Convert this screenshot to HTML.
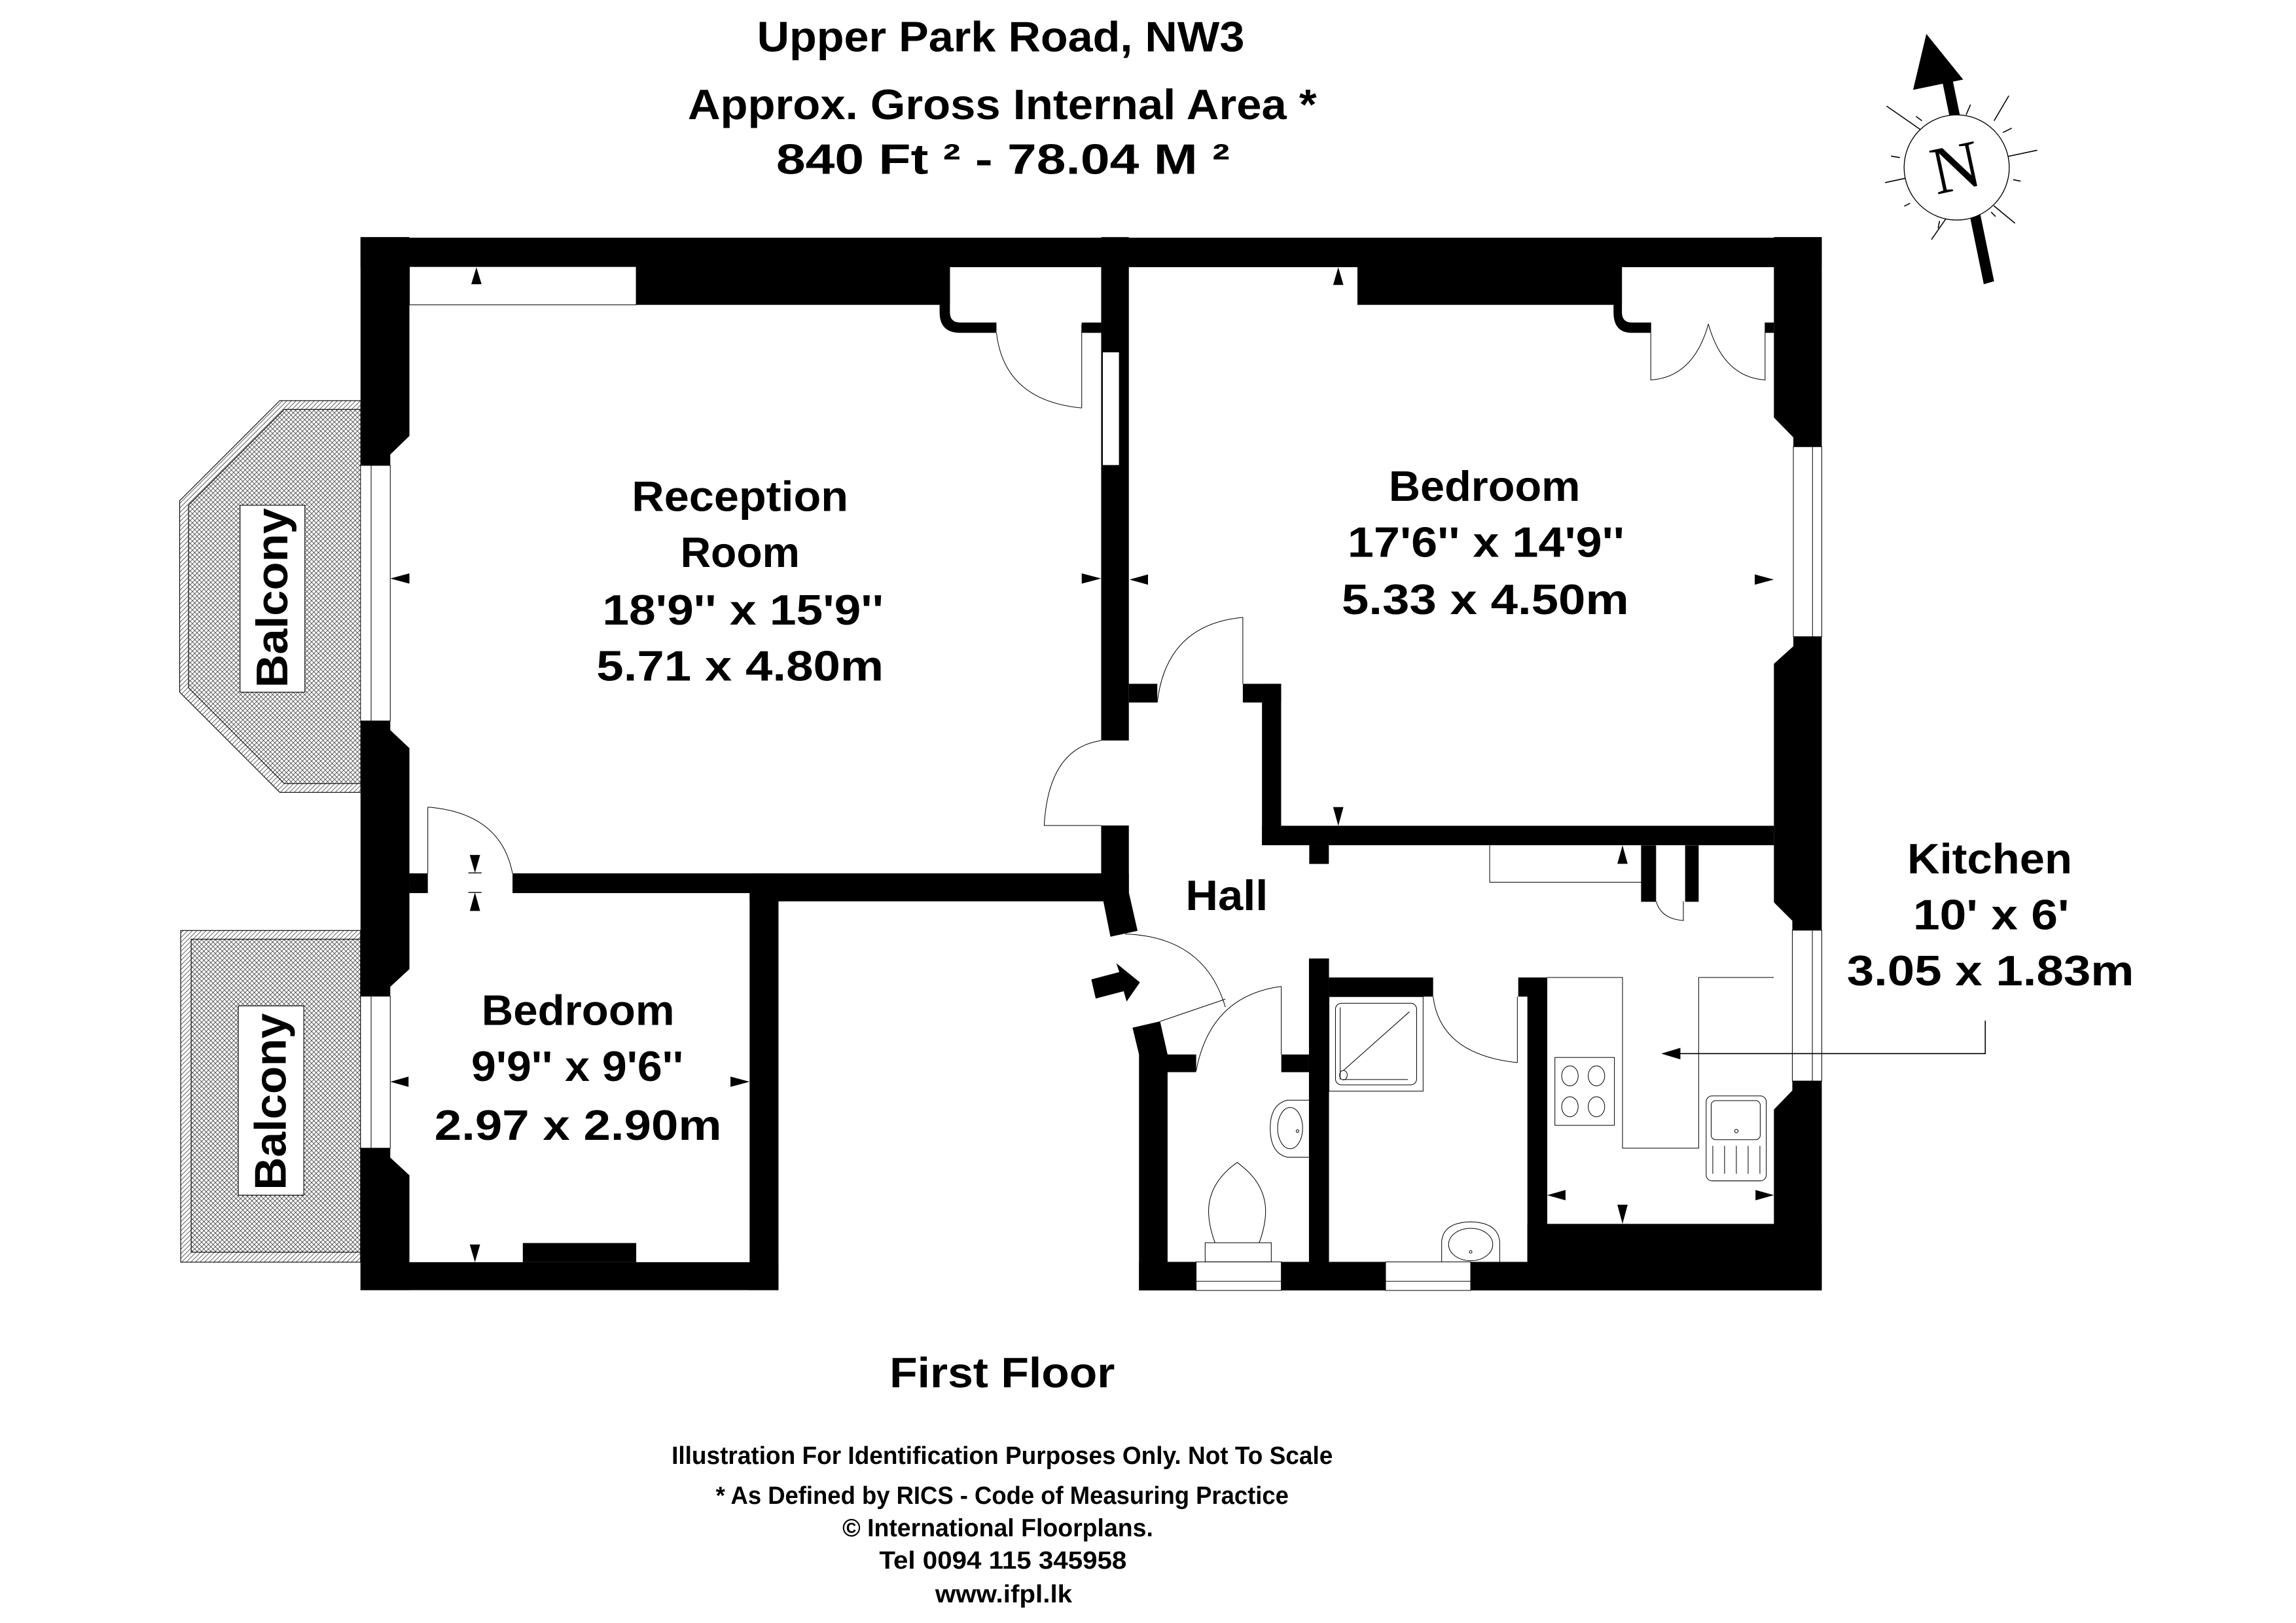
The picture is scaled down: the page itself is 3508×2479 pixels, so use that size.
<!DOCTYPE html>
<html><head><meta charset="utf-8">
<style>
html,body{margin:0;padding:0;background:#fff;}
svg{display:block;}
text{font-family:"Liberation Sans",sans-serif;font-weight:bold;fill:#000;}
.t{stroke:#000;stroke-width:0.45;fill:none;}
.w{fill:#000;}
</style></head><body>
<svg width="3508" height="2479" viewBox="0 0 1559 1102" preserveAspectRatio="none" xmlns="http://www.w3.org/2000/svg">
<defs>
<pattern id="diag" width="2.2" height="2.2" patternUnits="userSpaceOnUse" patternTransform="rotate(45)">
<rect width="2.2" height="2.2" fill="#fff"/><line x1="0" y1="0" x2="0" y2="2.2" stroke="#333" stroke-width="0.7"/></pattern>
<pattern id="cross" width="2.2" height="2.2" patternUnits="userSpaceOnUse" patternTransform="rotate(45)">
<rect width="2.2" height="2.2" fill="#fff"/><line x1="0" y1="0" x2="0" y2="2.2" stroke="#333" stroke-width="0.7"/><line x1="0" y1="0" x2="2.2" y2="0" stroke="#333" stroke-width="0.7"/></pattern>
</defs>
<rect width="1559" height="1102" fill="#fff"/>

<g transform="translate(-3,-3)">
<text x="517" y="38" font-size="29" textLength="331" lengthAdjust="spacingAndGlyphs">Upper Park Road, NW3</text>
<text x="470" y="84" font-size="29" textLength="427" lengthAdjust="spacingAndGlyphs">Approx. Gross Internal Area *</text>
<text x="530" y="121" font-size="29" textLength="308" lengthAdjust="spacingAndGlyphs">840 Ft ²  -  78.04 M ²</text>
</g>

<!-- Compass -->
<g>
<g stroke="#000" stroke-width="0.7">
<line x1="1363" y1="106.3" x2="1383.3" y2="102"/>
<line x1="1353.8" y1="139.7" x2="1368.2" y2="151.6"/>
<line x1="1322" y1="147.5" x2="1311.5" y2="162.6"/>
<line x1="1294" y1="121" x2="1280" y2="124"/>
<line x1="1304" y1="88" x2="1281" y2="72"/>
<line x1="1335" y1="78" x2="1338" y2="71"/>
<line x1="1354" y1="82" x2="1364" y2="65"/>
<line x1="1360" y1="90" x2="1366" y2="87"/>
<line x1="1367" y1="122" x2="1372" y2="123"/>
<line x1="1352" y1="144" x2="1355" y2="147"/>
<line x1="1317" y1="150" x2="1316" y2="155"/>
<line x1="1297" y1="138" x2="1293" y2="140"/>
<line x1="1290" y1="107" x2="1284" y2="106"/>
<line x1="1305" y1="82" x2="1301" y2="79"/>
</g>
<polygon points="1319,56 1326,55 1354,191 1347,193" fill="#000"/>
<polygon points="1308,23 1333,54 1299,61" fill="#000"/>
<circle cx="1328.6" cy="113.7" r="35.7" fill="#fff" stroke="#000" stroke-width="0.6"/>
<text x="1328" y="129" font-size="46" text-anchor="middle" transform="rotate(-12 1328 114)" style="font-family:'Liberation Serif',serif;font-weight:normal">N</text>
</g>

<!-- Balconies -->
<polygon points="190,272 245,272 245,538 190,538 122,470 122,340" fill="url(#diag)" stroke="#000" stroke-width="0.5"/>
<polygon points="193,278 245,278 245,532 193,532 128,467 128,343" fill="url(#cross)" stroke="#000" stroke-width="0.5"/>
<rect x="163" y="343" width="44" height="127" fill="#fff" stroke="#000" stroke-width="0.5"/>
<text transform="translate(195,406) rotate(-90)" font-size="30" text-anchor="middle" textLength="122" lengthAdjust="spacingAndGlyphs">Balcony</text>

<rect x="122.7" y="631.8" width="122.1" height="225.2" fill="url(#diag)" stroke="#000" stroke-width="0.5"/>
<rect x="129.8" y="637.7" width="115" height="212.5" fill="url(#cross)" stroke="#000" stroke-width="0.5"/>
<rect x="161.8" y="683" width="44.5" height="128.5" fill="#fff" stroke="#000" stroke-width="0.5"/>
<text transform="translate(194,748) rotate(-90)" font-size="30" text-anchor="middle" textLength="120" lengthAdjust="spacingAndGlyphs">Balcony</text>

<!-- Walls -->
<rect class="w" x="244.8" y="161.4" width="992.2" height="20"/>
<rect x="278" y="181" width="154" height="26" fill="#fff" stroke="#000" stroke-width="0.45"/>
<rect class="w" x="432" y="181" width="213" height="26"/>
<path class="w" d="M638,181 H645 V212 Q645,219 652,219 H676.6 V226 H652 Q638,226 638,212 Z"/>
<rect class="w" x="734.5" y="219" width="13.2" height="7"/>
<path class="t" d="M734.5,220 V277 M676.6,226 Q682,272 734.5,277"/>
<rect class="w" x="747.7" y="161" width="18.8" height="341.8"/>
<rect x="748.6" y="239" width="11.4" height="77" fill="#fff" stroke="#000" stroke-width="0.45"/>
<path class="t" d="M709,560.5 H747.7 M709,560.5 Q712,508 747.7,502.8"/>
<rect class="w" x="747.7" y="560.5" width="18.8" height="46"/>
<polygon class="w" points="748,606 766.5,606 772.4,632 754,636"/>
<rect class="w" x="348" y="593" width="418.5" height="13.4"/>
<rect class="w" x="509" y="593" width="257" height="19"/>
<rect class="w" x="278" y="593" width="12.5" height="13.4"/>
<path class="t" d="M290.5,548 V593 M290.5,548 Q340,552 348,593"/>
<rect class="w" x="509" y="593" width="19.6" height="283"/>

<polygon class="w" points="244.8,161 278,161 278,296 265,308.6 265,316 244.8,316"/>
<polygon class="w" points="244.8,489.5 265,489.5 265,495.7 278,508 278,658 265,670 265,676.4 244.8,676.4"/>
<polygon class="w" points="244.8,779.6 265,779.6 265,786 278,798 278,876 244.8,876"/>
<rect x="244.8" y="316" width="20.2" height="173.5" fill="#fff" stroke="#000" stroke-width="0.45"/>
<line class="t" x1="252" y1="316" x2="252" y2="489.5"/>
<rect x="244.8" y="676.4" width="20.2" height="103.2" fill="#fff" stroke="#000" stroke-width="0.45"/>
<line class="t" x1="252" y1="676.4" x2="252" y2="779.6"/>
<rect class="w" x="244.8" y="857" width="283.8" height="19"/>
<rect class="w" x="355" y="844" width="77" height="13"/>

<polygon class="w" points="1204.5,161 1237,161 1237,303.3 1217.7,303.3 1217.7,297 1204.5,283.5"/>
<polygon class="w" points="1217.7,432.3 1237,432.3 1237,631.6 1217,631.6 1217,625.2 1204.5,612.7 1204.5,450.7 1217.7,438.8"/>
<polygon class="w" points="1217,734 1237,734 1237,876 1204.5,876 1204.5,753.4 1217,740.4"/>
<rect x="1217.7" y="303.3" width="19.3" height="129" fill="#fff" stroke="#000" stroke-width="0.45"/>
<line class="t" x1="1230.7" y1="303.3" x2="1230.7" y2="432.3"/>
<rect x="1217" y="631.6" width="20" height="102.4" fill="#fff" stroke="#000" stroke-width="0.45"/>
<line class="t" x1="1230.6" y1="631.6" x2="1230.6" y2="734"/>

<rect class="w" x="921.7" y="181" width="179.6" height="26"/>
<path class="w" d="M1095.6,181 H1101.3 V212 Q1101.3,219 1108,219 H1120.9 V226 H1108 Q1095.6,226 1095.6,212 Z"/>
<rect class="w" x="1198.5" y="219" width="6" height="7"/>
<path class="t" d="M1120.9,219 V258 Q1150,256 1160,220 M1198.5,219 V258 Q1170,256 1160,220"/>
<rect class="w" x="856.9" y="560.7" width="347.6" height="13.2"/>
<rect class="w" x="856.9" y="464.3" width="13" height="109.6"/>
<rect class="w" x="843.9" y="464.3" width="26" height="12.7"/>
<rect class="w" x="766.5" y="464.3" width="19.3" height="12.7"/>
<rect class="w" x="889" y="573.9" width="13.3" height="12.7"/>
<path class="t" d="M843.9,419.2 V464.3 M785.8,477 Q792,424 843.9,419.2"/>

<path class="t" d="M1011.5,574 V599 H1114.3"/>
<rect class="w" x="1114.3" y="574" width="10.2" height="38.3"/>
<rect class="w" x="1144.2" y="574" width="9.2" height="38.3"/>
<path class="t" d="M1143,612 V625 Q1128,624 1124.5,612"/>

<polygon class="w" points="769,697.8 787.7,693.5 792.8,716 812.2,716 812.2,728 792.8,728 792.8,876 773.4,876 773.4,716"/>
<line class="t" x1="787.7" y1="693.5" x2="832" y2="678.4"/>
<path class="t" d="M763.9,634.2 Q818,636 832,683.8"/>
<polygon class="w" points="741,665 760,660 758,654 774,667 765,680 763,673 744,678"/>
<rect class="w" x="870" y="716" width="18.8" height="12"/>
<path class="t" d="M870,669.8 V716 M870,669.8 Q822,676 812.2,727"/>
<rect class="w" x="888.8" y="650.8" width="13.6" height="225.2"/>
<rect class="w" x="902.4" y="663.7" width="70.7" height="13"/>
<rect class="w" x="1030.9" y="663.7" width="19.7" height="13"/>
<rect class="w" x="1037.1" y="663.7" width="13.5" height="212.3"/>
<path class="t" d="M1030.3,676.7 V721.5 M973.1,676.7 Q978,716 1030.3,721.5"/>
<rect class="w" x="773.4" y="856.8" width="463.6" height="19.4"/>
<rect x="812.2" y="856.8" width="57.8" height="19.4" fill="#fff" stroke="#000" stroke-width="0.45"/>
<line class="t" x1="812.2" y1="870" x2="870" y2="870"/>
<rect x="940.8" y="856.8" width="57.8" height="19.4" fill="#fff" stroke="#000" stroke-width="0.45"/>
<line class="t" x1="940.8" y1="870" x2="998.6" y2="870"/>
<rect class="w" x="1037.1" y="831" width="199.9" height="45"/>

<rect x="902.4" y="676.7" width="63.9" height="64.2" class="t"/>
<rect x="906.8" y="681.2" width="55.1" height="55.4" rx="4" class="t"/>
<line class="t" x1="910" y1="684" x2="910" y2="733"/>
<line class="t" x1="912" y1="733" x2="956" y2="733"/>
<line class="t" x1="912" y1="727" x2="957" y2="687"/>
<ellipse class="t" cx="912.2" cy="730" rx="2.6" ry="3.2"/>
<path class="t" d="M888.8,747 H874 Q862.5,750 862.5,766 Q862.5,783 874,785.7 H888.8"/>
<ellipse class="t" cx="876" cy="766" rx="8.5" ry="14"/>
<circle class="t" cx="881" cy="768" r="0.9"/>
<rect class="t" x="818.3" y="843.8" width="44.9" height="13"/>
<path class="t" d="M825,843.8 Q822,836 821,828 Q818,805 840,789.3 Q862,805 859,828 Q858,836 855,843.8"/>
<path class="t" d="M978.9,856.8 V843 Q980,830 998.6,829.6 Q1017,830 1018.3,843 V856.8"/>
<ellipse class="t" cx="998.6" cy="845" rx="15" ry="11"/>
<circle class="t" cx="998.6" cy="850" r="0.9"/>
<path class="t" d="M1050.6,663.7 H1101.7 V779.6 H1153.4 V663.7 H1204.4"/>
<rect class="t" x="1055.8" y="718" width="40.4" height="46.1"/>
<ellipse class="t" cx="1066" cy="730.5" rx="5.6" ry="6.8"/>
<ellipse class="t" cx="1084" cy="730.5" rx="5.6" ry="6.8"/>
<ellipse class="t" cx="1066" cy="751.5" rx="5.6" ry="6.8"/>
<ellipse class="t" cx="1084" cy="751.5" rx="5.6" ry="6.8"/>
<rect class="t" x="1158.5" y="744.1" width="40.8" height="57.7" rx="4"/>
<rect class="t" x="1161.9" y="747.3" width="33.3" height="26.5" rx="3"/>
<circle class="t" cx="1179" cy="768" r="1.2"/>
<g class="t"><line x1="1163" y1="778" x2="1163" y2="797"/><line x1="1171" y1="778" x2="1171" y2="797"/><line x1="1179" y1="778" x2="1179" y2="797"/><line x1="1187" y1="778" x2="1187" y2="797"/><line x1="1195" y1="778" x2="1195" y2="797"/></g>

<g fill="#000">
<polygon points="323.5,181.5 320,193 327,193"/>
<polygon points="265,392.8 278,389.3 278,396.3"/>
<polygon points="747.7,392.8 734.5,389.3 734.5,396.3"/>
<polygon points="766.9,393.5 779.5,390 779.5,397"/>
<polygon points="1204.5,393.5 1191.5,390 1191.5,397"/>
<polygon points="908.7,181.5 905.2,193.5 912.2,193.5"/>
<polygon points="908.7,560.7 905.2,548 912.2,548"/>
<polygon points="1101.7,574 1098.2,586.5 1105.2,586.5"/>
<polygon points="265,734.5 277.4,731 277.4,738"/>
<polygon points="509,734.5 496,731 496,738"/>
<polygon points="322.5,857 319,845 326,845"/>
<polygon points="322.5,592.7 319,580.5 326,580.5"/>
<polygon points="322.5,606 319,618.5 326,618.5"/>
<polygon points="1050.6,811.5 1063,808 1063,815"/>
<polygon points="1204.5,811.5 1192,808 1192,815"/>
<polygon points="1101.7,831 1098.2,818 1105.2,818"/>
<polygon points="1128,715.4 1141,711.5 1141,719.3"/>
</g>
<g stroke="#000" stroke-width="0.6">
<line x1="318" y1="592.7" x2="327" y2="592.7"/><line x1="318" y1="606" x2="327" y2="606"/>
</g>
<path d="M1140,715.4 H1348 V693" fill="none" stroke="#000" stroke-width="0.7"/>

<g transform="translate(-3,-3)">
<text x="432" y="350" font-size="29" textLength="147" lengthAdjust="spacingAndGlyphs">Reception</text>
<text x="465" y="388" font-size="29" textLength="81" lengthAdjust="spacingAndGlyphs">Room</text>
<text x="412" y="427" font-size="29" textLength="191" lengthAdjust="spacingAndGlyphs">18'9'' x 15'9''</text>
<text x="408" y="465" font-size="29" textLength="195" lengthAdjust="spacingAndGlyphs">5.71 x 4.80m</text>

<text x="946" y="343" font-size="29" textLength="130" lengthAdjust="spacingAndGlyphs">Bedroom</text>
<text x="918" y="381" font-size="29" textLength="188" lengthAdjust="spacingAndGlyphs">17'6'' x 14'9''</text>
<text x="914" y="420" font-size="29" textLength="195" lengthAdjust="spacingAndGlyphs">5.33 x 4.50m</text>

<text x="330" y="699" font-size="29" textLength="131" lengthAdjust="spacingAndGlyphs">Bedroom</text>
<text x="323" y="737" font-size="29" textLength="144" lengthAdjust="spacingAndGlyphs">9'9'' x 9'6''</text>
<text x="298" y="777" font-size="29" textLength="195" lengthAdjust="spacingAndGlyphs">2.97 x 2.90m</text>

<text x="808" y="621" font-size="29" textLength="56" lengthAdjust="spacingAndGlyphs">Hall</text>

<text x="1298" y="596" font-size="29" textLength="112" lengthAdjust="spacingAndGlyphs">Kitchen</text>
<text x="1302" y="634" font-size="29" textLength="106" lengthAdjust="spacingAndGlyphs">10' x 6'</text>
<text x="1257" y="672" font-size="29" textLength="195" lengthAdjust="spacingAndGlyphs">3.05 x 1.83m</text>

<text x="607" y="945" font-size="29" textLength="153" lengthAdjust="spacingAndGlyphs">First Floor</text>

<text x="459" y="997" font-size="17" textLength="449" lengthAdjust="spacingAndGlyphs">Illustration For Identification Purposes Only. Not To Scale</text>
<text x="489" y="1024" font-size="17" textLength="389" lengthAdjust="spacingAndGlyphs">* As Defined by RICS - Code of Measuring Practice</text>
<text x="575" y="1046" font-size="17" textLength="211" lengthAdjust="spacingAndGlyphs">© International Floorplans.</text>
<text x="600" y="1068" font-size="17" textLength="168" lengthAdjust="spacingAndGlyphs">Tel 0094 115 345958</text>
<text x="638" y="1091" font-size="17" textLength="93" lengthAdjust="spacingAndGlyphs">www.ifpl.lk</text>
</g>
</svg>
</body></html>
